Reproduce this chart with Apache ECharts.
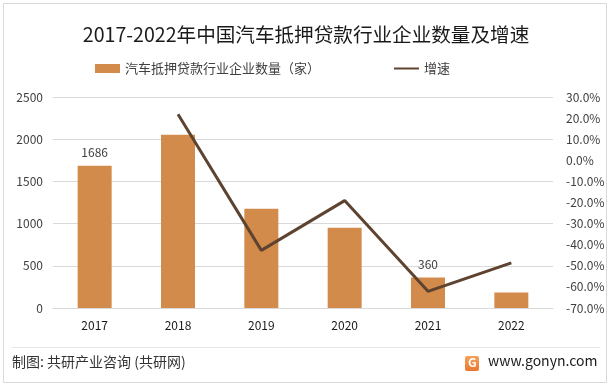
<!DOCTYPE html>
<html><head><meta charset="utf-8">
<script src="https://cdn.jsdelivr.net/npm/echarts@6/dist/echarts.min.js"></script>
<style>html,body{margin:0;padding:0;background:#fff}#c{width:612px;height:386px}</style>
</head><body><div id="c"></div>
<script>
const categories = ['2017','2018','2019','2020','2021','2022'];
const companyCounts = [1686, 2053, 1176, 951, 360, 185];
const growthRates = [null, 21.8, -42.7, -19.1, -62.1, -48.6];
const shownLabels = [1686, null, null, null, 360, null];
const leftTicks = {min: 0, max: 2500, interval: 500};
const rightTicks = {min: -70, max: 30, interval: 10};

const FONT = '"Noto Sans CJK SC", "Noto Sans", sans-serif';
const chart = echarts.init(document.getElementById('c'), null, {renderer: 'canvas'});
chart.setOption({
  animation: false,
  backgroundColor: '#fff',
  textStyle: {fontFamily: FONT},
  title: {
    text: '2017-2022年中国汽车抵押贷款行业企业数量及增速',
    left: 'center', top: 20,
    textStyle: {fontSize: 19.6, fontWeight: 'normal', color: '#1a1a1a', fontFamily: FONT}
  },
  legend: {
    top: 62, left: 95, padding: 0, itemGap: 74,
    itemWidth: 25, itemHeight: 9,
    textStyle: {fontSize: 13, color: '#404040', fontFamily: FONT},
    data: [
      {name: '汽车抵押贷款行业企业数量（家）', icon: 'rect'},
      {name: '增速', icon: 'path://M0,4 L25,4 L25,6 L0,6 Z'}
    ]
  },
  grid: {left: 53, right: 59, top: 97, bottom: 78},
  xAxis: {
    type: 'category', data: categories,
    axisLine: {lineStyle: {color: '#d9d9d9'}},
    axisTick: {show: false},
    axisLabel: {color: '#1a1a1a', fontSize: 12, margin: 11, fontFamily: FONT}
  },
  yAxis: [
    {type: 'value', min: leftTicks.min, max: leftTicks.max, interval: leftTicks.interval,
     axisLine: {show: false}, axisTick: {show: false},
     splitLine: {lineStyle: {color: '#d9d9d9'}},
     axisLabel: {color: '#404040', fontSize: 12, margin: 10, fontFamily: FONT,
       formatter: v => String(v)}},
    {type: 'value', min: rightTicks.min, max: rightTicks.max, interval: rightTicks.interval,
     axisLine: {show: false}, axisTick: {show: false}, splitLine: {show: false},
     axisLabel: {color: '#404040', fontSize: 12, margin: 13, fontFamily: FONT,
       formatter: v => v.toFixed(1) + '%'}}
  ],
  series: [
    {name: '汽车抵押贷款行业企业数量（家）', type: 'bar', barWidth: 34,
     itemStyle: {color: '#D38B4C'},
     data: companyCounts.map((v, i) => ({
       value: v,
       label: {show: shownLabels[i] !== null, position: 'top', distance: 7,
               color: '#404040', fontSize: 12, fontFamily: FONT}
     }))},
    {name: '增速', type: 'line', yAxisIndex: 1, data: growthRates,
     symbol: 'none', connectNulls: false,
     lineStyle: {color: '#5E4430', width: 3},
     itemStyle: {color: '#5E4430'}}
  ],
  graphic: [
    {type: 'rect', shape: {x: 3.5, y: 3.5, width: 603, height: 379},
     style: {fill: 'none', stroke: '#d9d9d9', lineWidth: 1}, silent: true},
    {type: 'line', shape: {x1: 12, y1: 347.5, x2: 600, y2: 347.5},
     style: {stroke: '#e6e6e6', lineWidth: 1}},
    {type: 'text', left: 12, top: 355,
     style: {text: '制图: 共研产业咨询 (共研网)', fill: '#333', font: '14px ' + FONT}},
    {type: 'rect', shape: {x: 465, y: 356, width: 14, height: 15, r: 2},
     style: {fill: new echarts.graphic.LinearGradient(0, 0, 0, 1, [
       {offset: 0, color: '#F5A15A'}, {offset: 1, color: '#E9772E'}])}},
    {type: 'text', left: 468, top: 356,
     style: {text: 'G', fill: '#fff', font: 'bold 12px ' + FONT}},
    {type: 'text', left: 488, top: 354,
     style: {text: 'www.gonyn.com', fill: '#1a1a1a', font: '14px ' + FONT}}
  ]
});
</script></body></html>
